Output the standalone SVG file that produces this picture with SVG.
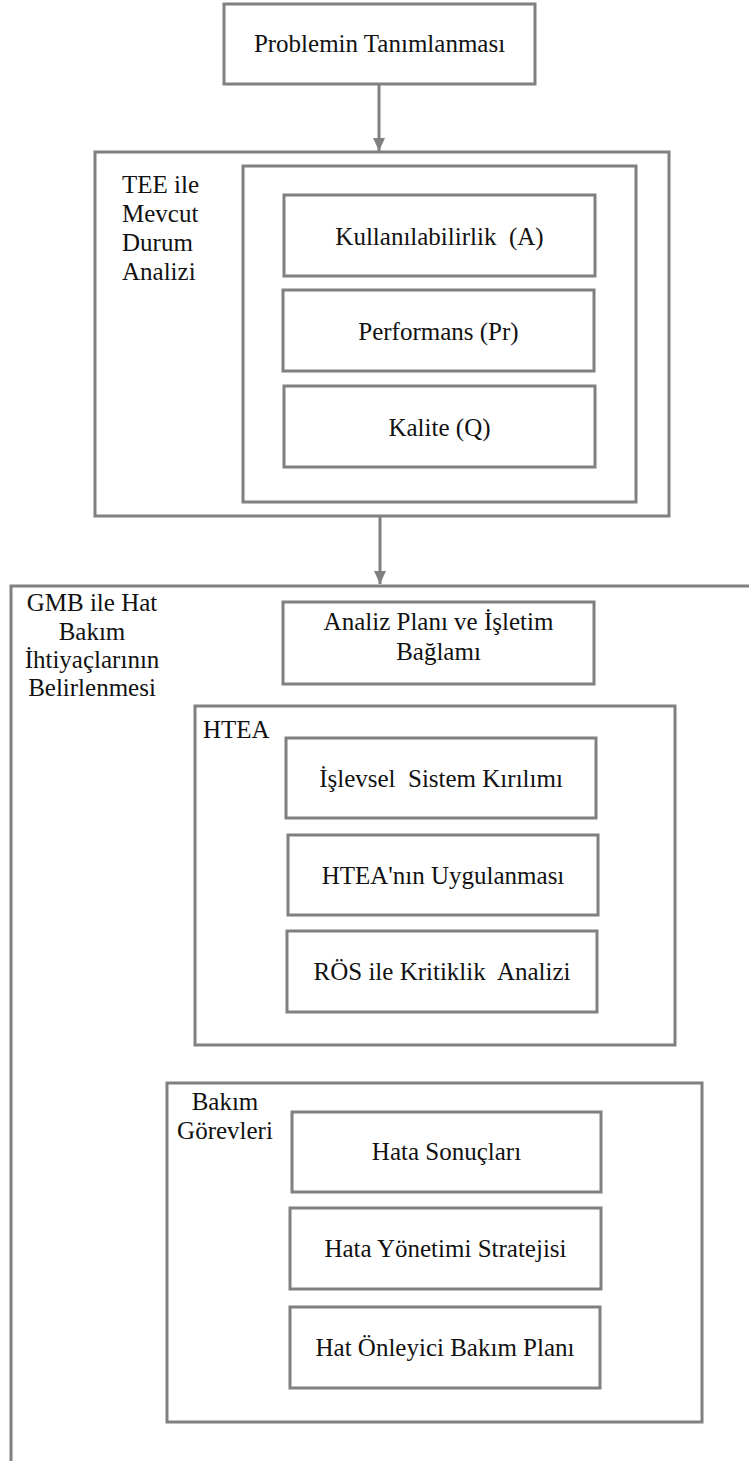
<svg xmlns="http://www.w3.org/2000/svg" width="749" height="1461" viewBox="0 0 749 1461">
  <defs>
    <marker id="arrow" viewBox="0 0 13 12" refX="13" refY="6" markerWidth="13" markerHeight="12" markerUnits="userSpaceOnUse" orient="auto">
      <path d="M0,0 L13,6 L0,12 Z" fill="#808080"/>
    </marker>
  </defs>
  <style>
    .box { fill: #ffffff; stroke: #808080; stroke-width: 3; }
    .frame { fill: none; stroke: #808080; stroke-width: 3; }
    text { font-family: 'Liberation Serif', 'DejaVu Serif', serif; font-size: 25px; fill: #111111; white-space: pre; }
    .c { text-anchor: middle; }
    .conn { stroke: #808080; stroke-width: 3; fill: none; }
  </style>
  <rect width="749" height="1461" fill="#ffffff"/>

  <!-- Step 1 -->
  <g id="problem">
    <rect class="box" x="224" y="4" width="311" height="80"/>
    <text class="c" x="379.5" y="52" font-family="Liberation Serif, serif">Problemin Tanımlanması</text>
  </g>

  <!-- Step 2: current state analysis with OEE -->
  <g id="tee">
    <rect class="frame" x="95" y="152" width="574" height="364"/>
    <text x="122" y="193">TEE ile</text>
    <text x="122" y="222">Mevcut</text>
    <text x="122" y="251">Durum</text>
    <text x="122" y="280">Analizi</text>
  </g>
  <g id="tee-factors">
    <rect class="frame" x="243" y="166" width="393" height="336"/>
  </g>
  <g id="availability">
    <rect class="box" x="284" y="195" width="311" height="81"/>
    <text class="c" x="439.5" y="245">Kullanılabilirlik  (A)</text>
  </g>
  <g id="performance">
    <rect class="box" x="283" y="290" width="311" height="81"/>
    <text class="c" x="438.5" y="340">Performans (Pr)</text>
  </g>
  <g id="quality">
    <rect class="box" x="284" y="386" width="311" height="81"/>
    <text class="c" x="439.5" y="436">Kalite (Q)</text>
  </g>

  <!-- Step 3: line maintenance needs with RCM -->
  <g id="gmb">
    <rect class="frame" x="11" y="586" width="800" height="920"/>
    <text class="c" x="92" y="611">GMB ile Hat</text>
    <text class="c" x="92" y="640">Bakım</text>
    <text class="c" x="92" y="668">İhtiyaçlarının</text>
    <text class="c" x="92" y="696">Belirlenmesi</text>
  </g>
  <g id="plan">
    <rect class="box" x="283" y="602" width="311" height="82"/>
    <text class="c" x="438.5" y="630">Analiz Planı ve İşletim</text>
    <text class="c" x="438.5" y="660">Bağlamı</text>
  </g>

  <g id="htea">
    <rect class="frame" x="195" y="706" width="480" height="339"/>
    <text x="203" y="738">HTEA</text>
  </g>
  <g id="breakdown">
    <rect class="box" x="286" y="738" width="310" height="80"/>
    <text class="c" x="441" y="787">İşlevsel  Sistem Kırılımı</text>
  </g>
  <g id="fmea-apply">
    <rect class="box" x="288" y="835" width="310" height="80"/>
    <text class="c" x="443" y="884">HTEA'nın Uygulanması</text>
  </g>
  <g id="criticality">
    <rect class="box" x="287" y="931" width="310" height="81"/>
    <text class="c" x="442" y="980">RÖS ile Kritiklik  Analizi</text>
  </g>

  <g id="tasks">
    <rect class="frame" x="167" y="1083" width="535" height="339"/>
    <text class="c" x="225" y="1110">Bakım</text>
    <text class="c" x="225" y="1139">Görevleri</text>
  </g>
  <g id="consequences">
    <rect class="box" x="292" y="1112" width="309" height="80"/>
    <text class="c" x="446.5" y="1160">Hata Sonuçları</text>
  </g>
  <g id="strategy">
    <rect class="box" x="290" y="1208" width="311" height="81"/>
    <text class="c" x="445.5" y="1257">Hata Yönetimi Stratejisi</text>
  </g>
  <g id="pm-plan">
    <rect class="box" x="290" y="1307" width="310" height="81"/>
    <text class="c" x="445" y="1356">Hat Önleyici Bakım Planı</text>
  </g>

  <!-- Flow between the steps -->
  <g id="connectors">
    <line class="conn" x1="379" y1="84" x2="379" y2="151" marker-end="url(#arrow)"/>
    <line class="conn" x1="380" y1="516" x2="380" y2="584" marker-end="url(#arrow)"/>
  </g>
</svg>
